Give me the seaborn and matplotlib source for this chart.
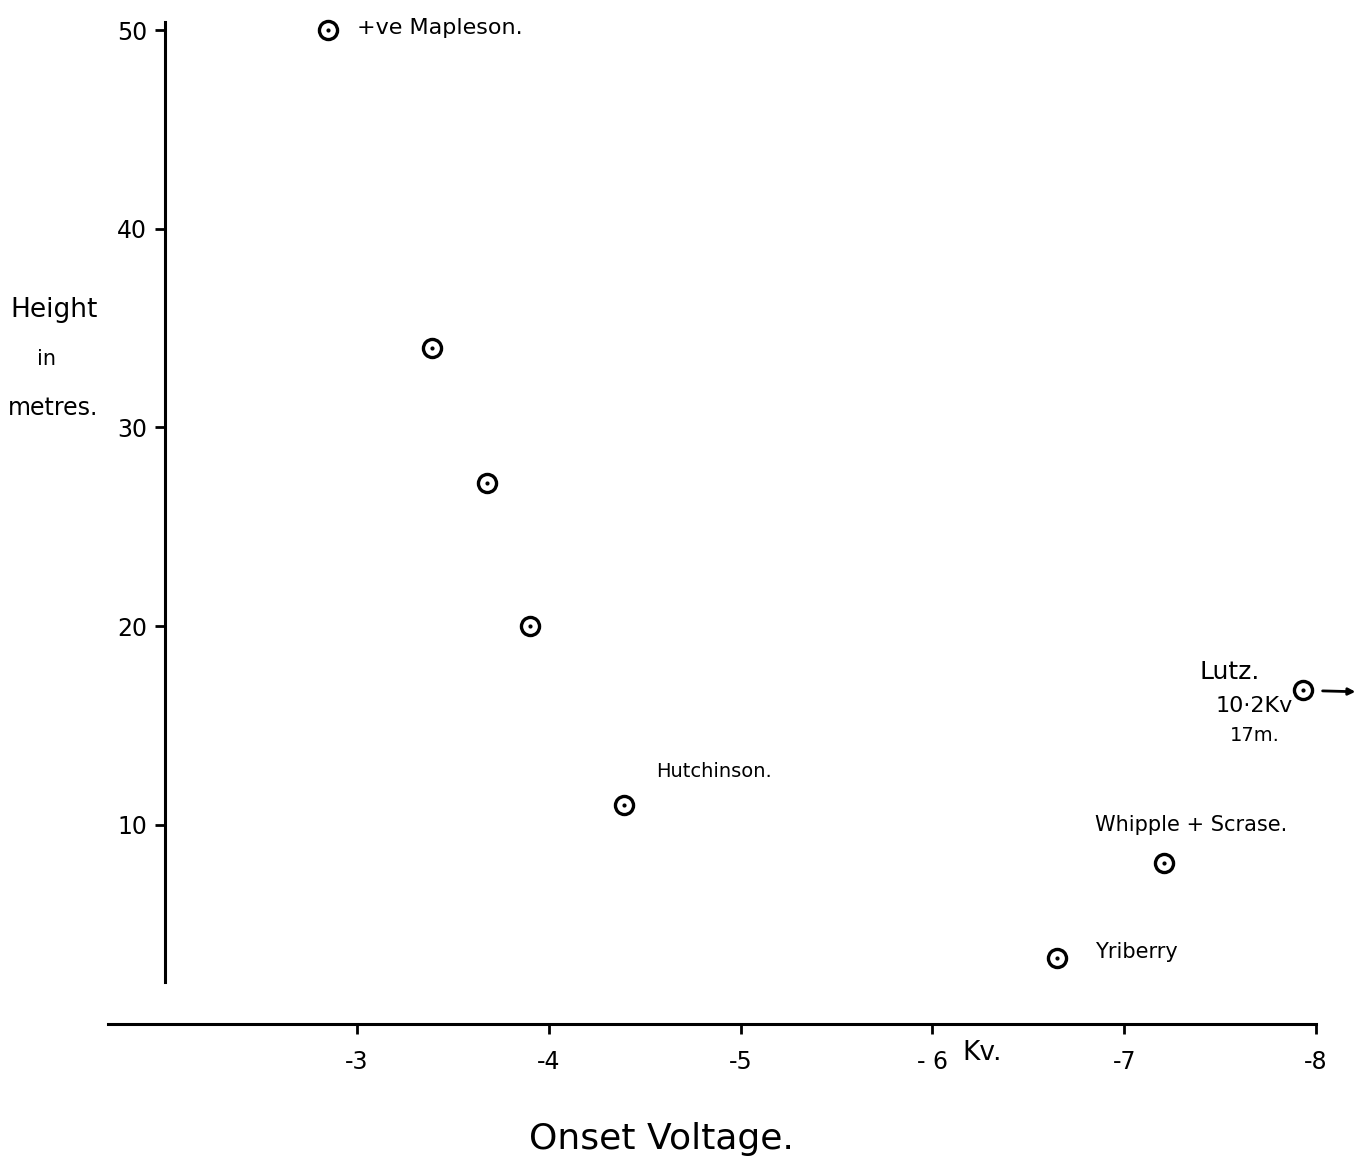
import numpy as np
import matplotlib
matplotlib.use("Agg")
import matplotlib.pyplot as plt
import seaborn as sns
import pandas as pd

# onset voltage (kV) and height (m)
voltage = [-2.85, -3.39, -3.68, -3.90, -4.39, -7.93, -7.21, -6.65]
height = [50.0, 34.0, 27.2, 20.0, 11.0, 16.8, 8.1, 3.3]
names = ["+ve Mapleson.", "", "", "", "Hutchinson.", "Lutz.", "Whipple + Scrase.", "Yriberry"]

x_ticks = [-3, -4, -5, -6, -7, -8]
x_tick_labels = ["-3", "-4", "-5", "- 6", "-7", "-8"]
y_ticks = [10, 20, 30, 40, 50]

df = pd.DataFrame({"voltage": voltage, "height": height, "name": names})

sns.set_style("white")
plt.rcParams["text.color"] = "black"
fig = plt.figure(figsize=(13.58, 11.68), dpi=100)
ax = fig.add_axes([0, 0, 1, 1])

sns.scatterplot(data=df, x="voltage", y="height", ax=ax, s=170, marker="o",
                facecolor="white", edgecolor="black", linewidth=2.4, zorder=3)
sns.scatterplot(data=df, x="voltage", y="height", ax=ax, s=9, marker="o",
                color="black", linewidth=0, zorder=4)

ax.set_xlim(-1.139, -8.219)
ax.set_ylim(-7.26, 51.51)

ax.spines["top"].set_visible(False)
ax.spines["right"].set_visible(False)
ax.spines["left"].set_position(("data", -2.0))
ax.spines["bottom"].set_position(("data", 0.0))
ax.spines["left"].set_bounds(2.1, 50.4)
ax.spines["bottom"].set_bounds(-1.70, -8.0)
for s in ["left", "bottom"]:
    ax.spines[s].set_linewidth(2.2)
    ax.spines[s].set_color("black")

ax.set_xticks(x_ticks)
ax.set_xticklabels(x_tick_labels)
ax.set_yticks(y_ticks)
ax.tick_params(axis="both", direction="out", length=7, width=2, color="black",
               labelsize=17, labelcolor="black", bottom=True, left=True)
ax.tick_params(axis="x", pad=12)
ax.tick_params(axis="y", pad=6)
ax.set_xlabel("")
ax.set_ylabel("")

# point labels
ax.text(-3.0, 50.1, "+ve Mapleson.", fontsize=16, va="center", ha="left")
ax.text(-4.56, 12.7, "Hutchinson.", fontsize=14, va="center", ha="left")
ax.text(-7.55, 17.7, "Lutz.", fontsize=18, va="center", ha="center")
ax.text(-7.68, 16.0, "10·2Kv", fontsize=16, va="center", ha="center")
ax.text(-7.68, 14.5, "17m.", fontsize=14, va="center", ha="center")
ax.text(-6.85, 10.0, "Whipple + Scrase.", fontsize=15, va="center", ha="left")
ax.text(-6.85, 3.6, "Yriberry", fontsize=15, va="center", ha="left")
ax.annotate("", xy=(-8.22, 16.7), xytext=(-8.02, 16.75),
            arrowprops=dict(arrowstyle="-|>", color="black", lw=2))

# axis titles
ax.text(-6.26, -1.45, "Kv.", fontsize=19, va="center", ha="center")
fig.text(0.008, 0.735, "Height", fontsize=19, ha="left", va="center")
fig.text(0.027, 0.693, "in", fontsize=15, ha="left", va="center")
fig.text(0.006, 0.651, "metres.", fontsize=17, ha="left", va="center")
fig.text(0.487, 0.025, "Onset Voltage.", fontsize=26, ha="center", va="center")

fig.savefig("out.png", dpi=100)
